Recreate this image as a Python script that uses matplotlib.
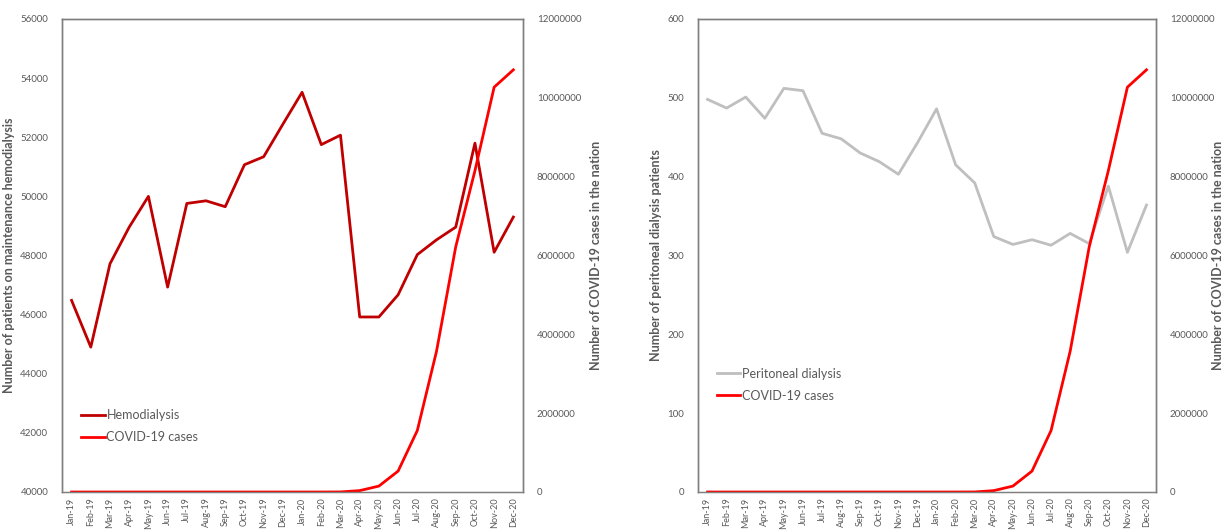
import numpy as np
import matplotlib
matplotlib.use('Agg')
import matplotlib.pyplot as plt

plt.rcParams['font.family'] = ['Lato', 'DejaVu Sans']

meses = ['Jan-19', 'Feb-19', 'Mar-19', 'Apr-19', 'May-19', 'Jun-19', 'Jul-19', 'Aug-19',
         'Sep-19', 'Oct-19', 'Nov-19', 'Dec-19', 'Jan-20', 'Feb-20', 'Mar-20', 'Apr-20',
         'May-20', 'Jun-20', 'Jul-20', 'Aug-20', 'Sep-20', 'Oct-20', 'Nov-20', 'Dec-20']

hemodialise = [46480, 44900, 47720, 48960, 50000, 46930, 49760, 49850, 49650, 51070, 51340, 52440,
               53520, 51750, 52070, 45920, 45920, 46670, 48030, 48530, 48960, 51800, 48110, 49300]

peritoneal = [498, 487, 501, 474, 512, 509, 455, 448, 430, 419, 403, 443,
              486, 415, 392, 324, 314, 320, 313, 328, 315, 388, 304, 364]

covid = [0, 0, 0, 0, 0, 0, 0, 0, 0, 0, 0, 0,
         0, 0, 1500, 35000, 150000, 530000, 1560000, 3570000, 6220000, 8150000, 10270000, 10710000]

cinza = '#595959'
x = np.arange(len(meses))

fig = plt.figure(figsize=(12.25, 5.3), dpi=100)

def eixo(pos, serie, cor, nome, ylim, yticks, ylabel, lx, rx, leg_pos):
    ax = fig.add_axes(pos)
    l1, = ax.plot(x, serie, color=cor, lw=2.0, label=nome)
    ax.set_xlim(-0.5, len(meses) - 0.5)
    ax.set_ylim(*ylim)
    ax.set_yticks(yticks)
    ax.set_yticklabels([str(v) for v in yticks])
    ax.set_xticks(x)
    ax.set_xticklabels(meses, rotation=90, fontsize=6.5, color=cinza)
    ax.tick_params(axis='y', labelsize=7, colors=cinza, length=0, pad=10)
    ax.tick_params(axis='x', length=0, pad=4)
    ax.set_ylabel(ylabel, fontsize=9, fontweight='bold', color=cinza)
    ax.yaxis.set_label_coords(lx, 0.5)

    ax2 = ax.twinx()
    l2, = ax2.plot(x, covid, color='#FF0000', lw=2.0, label='COVID-19 cases')
    ax2.set_ylim(0, 12000000)
    yt2 = list(range(0, 12000001, 2000000))
    ax2.set_yticks(yt2)
    ax2.set_yticklabels([str(v) for v in yt2])
    ax2.tick_params(axis='y', labelsize=7, colors=cinza, length=0, pad=10)
    ax2.set_ylabel('Number of COVID-19 cases in the nation', fontsize=9, fontweight='bold', color=cinza)
    ax2.yaxis.set_label_coords(rx, 0.5)

    for a in (ax, ax2):
        for s in a.spines.values():
            s.set_color('#7f7f7f')
            s.set_linewidth(1.0)
    ax.spines['bottom'].set_color('#d9d9d9')

    leg = ax2.legend([l1, l2], [nome, 'COVID-19 cases'], loc='lower left', bbox_to_anchor=leg_pos,
                     frameon=False, fontsize=9, handlelength=1.9, handletextpad=0.15,
                     labelspacing=0.8, borderaxespad=0)
    for t in leg.get_texts():
        t.set_color(cinza)
    return ax, ax2

eixo([0.0506, 0.0717, 0.3763, 0.8925], hemodialise, '#C00000', 'Hemodialysis',
     (40000, 56000), list(range(40000, 56001, 2000)),
     'Number of patients on maintenance hemodialysis', -0.102, 1.145, (0.03, 0.093))

eixo([0.5698, 0.0717, 0.3739, 0.8925], peritoneal, '#BFBFBF', 'Peritoneal dialysis',
     (0, 600), list(range(0, 601, 100)),
     'Number of peritoneal dialysis patients', -0.079, 1.122, (0.03, 0.18))

plt.savefig('out.png', dpi=100)
